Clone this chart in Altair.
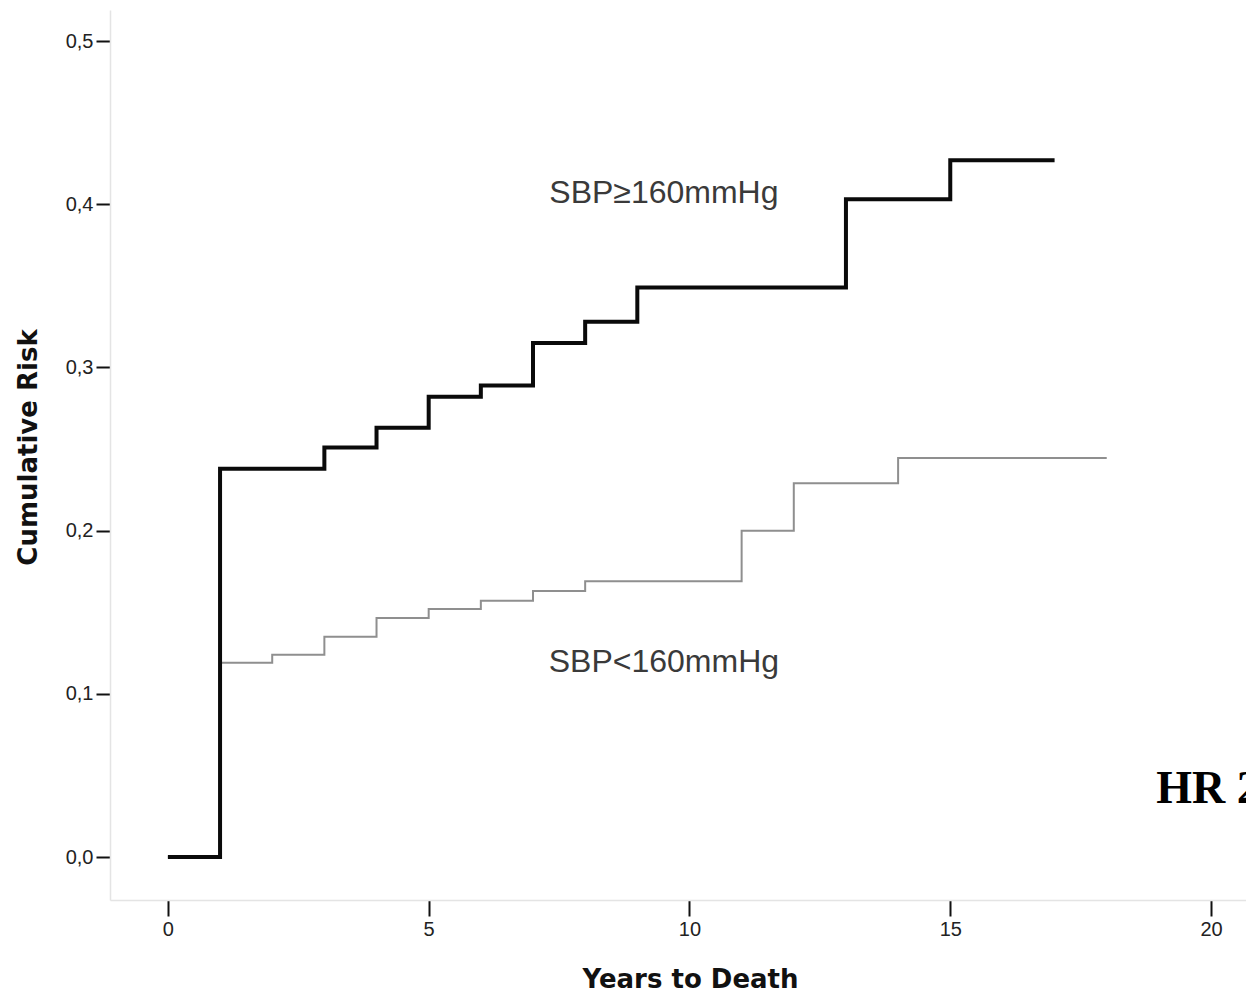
import altair as alt
import pandas as pd

# Step data (cumulative risk)
hi_years = [0, 1, 3, 4, 5, 6, 7, 8, 9, 13, 15, 17]
hi_risk = [0.0, 0.238, 0.251, 0.263, 0.282, 0.289, 0.315, 0.328, 0.349, 0.403, 0.427, 0.427]

lo_years = [0, 1, 2, 3, 4, 5, 6, 7, 8, 11, 12, 14, 18]
lo_risk = [0.0, 0.119, 0.124, 0.135, 0.1465, 0.152, 0.157, 0.163, 0.169, 0.200, 0.229, 0.2445, 0.2445]

# Axis ticks
x_ticks = [0, 5, 10, 15, 20]
y_ticks = [0.0, 0.1, 0.2, 0.3, 0.4, 0.5]

# Annotations
label_text = ["SBP\u2265160mmHg", "SBP<160mmHg"]
label_x = [9.51, 9.51]
label_y = [0.407, 0.1195]
hr_text = ["HR 2"]
hr_x = [18.95]
hr_y = [0.033]

hi_df = pd.DataFrame({"year": hi_years, "risk": hi_risk})
lo_df = pd.DataFrame({"year": lo_years, "risk": lo_risk})
lab_df = pd.DataFrame({"t": label_text, "x": label_x, "y": label_y})
hr_df = pd.DataFrame({"t": hr_text, "x": hr_x, "y": hr_y})

xscale = alt.Scale(domain=[-1.11, 20.67], nice=False, zero=False)
yscale = alt.Scale(domain=[-0.0263, 0.519], nice=False, zero=False)

xaxis = alt.Axis(
    title="Years to Death", values=x_ticks, grid=False,
    domainColor="#e4e4e4", domainWidth=1.5, tickColor="#111", tickWidth=2, tickSize=16,
    labelFont="Liberation Sans", labelFontSize=20, labelColor="#222", labelPadding=3,
    titleFont="DejaVu Sans", titleFontSize=26, titleFontWeight="bold", titleColor="#111",
    titlePadding=27, titleX=580,
)
yaxis = alt.Axis(
    title="Cumulative Risk", values=y_ticks, grid=False,
    labelExpr="replace(format(datum.value, '.1f'), '.', ',')",
    domainColor="#e4e4e4", domainWidth=1.5, tickColor="#111", tickWidth=2, tickSize=14,
    labelFont="Liberation Sans", labelFontSize=20, labelColor="#222", labelPadding=3,
    titleFont="DejaVu Sans", titleFontSize=26, titleFontWeight="bold", titleColor="#111",
    titlePadding=24, titleY=437,
)

lo_line = alt.Chart(lo_df).mark_line(interpolate="step-after", color="#8f8f8f", strokeWidth=2).encode(
    x=alt.X("year:Q", scale=xscale, axis=xaxis),
    y=alt.Y("risk:Q", scale=yscale, axis=yaxis),
)
hi_line = alt.Chart(hi_df).mark_line(interpolate="step-after", color="#0a0a0a", strokeWidth=4).encode(
    x=alt.X("year:Q", scale=xscale),
    y=alt.Y("risk:Q", scale=yscale),
)
labels = alt.Chart(lab_df).mark_text(
    font="Liberation Sans", fontSize=32, color="#3a3a3a", align="center", baseline="middle"
).encode(x=alt.X("x:Q", scale=xscale), y=alt.Y("y:Q", scale=yscale), text="t:N")
hr = alt.Chart(hr_df).mark_text(
    font="Liberation Serif", fontSize=46, fontWeight="bold", color="#000", align="left", baseline="alphabetic"
).encode(x=alt.X("x:Q", scale=xscale), y=alt.Y("y:Q", scale=yscale), text="t:N")

chart = alt.layer(lo_line, hi_line, labels, hr).properties(
    width=1136, height=890,
    background="white",
    autosize=alt.AutoSizeParams(type="none"),
    padding={"left": 102, "top": 2, "right": 0, "bottom": 95},
).configure_view(stroke=None)

chart.save("out.html", embed_options={"renderer": "svg", "actions": False})
